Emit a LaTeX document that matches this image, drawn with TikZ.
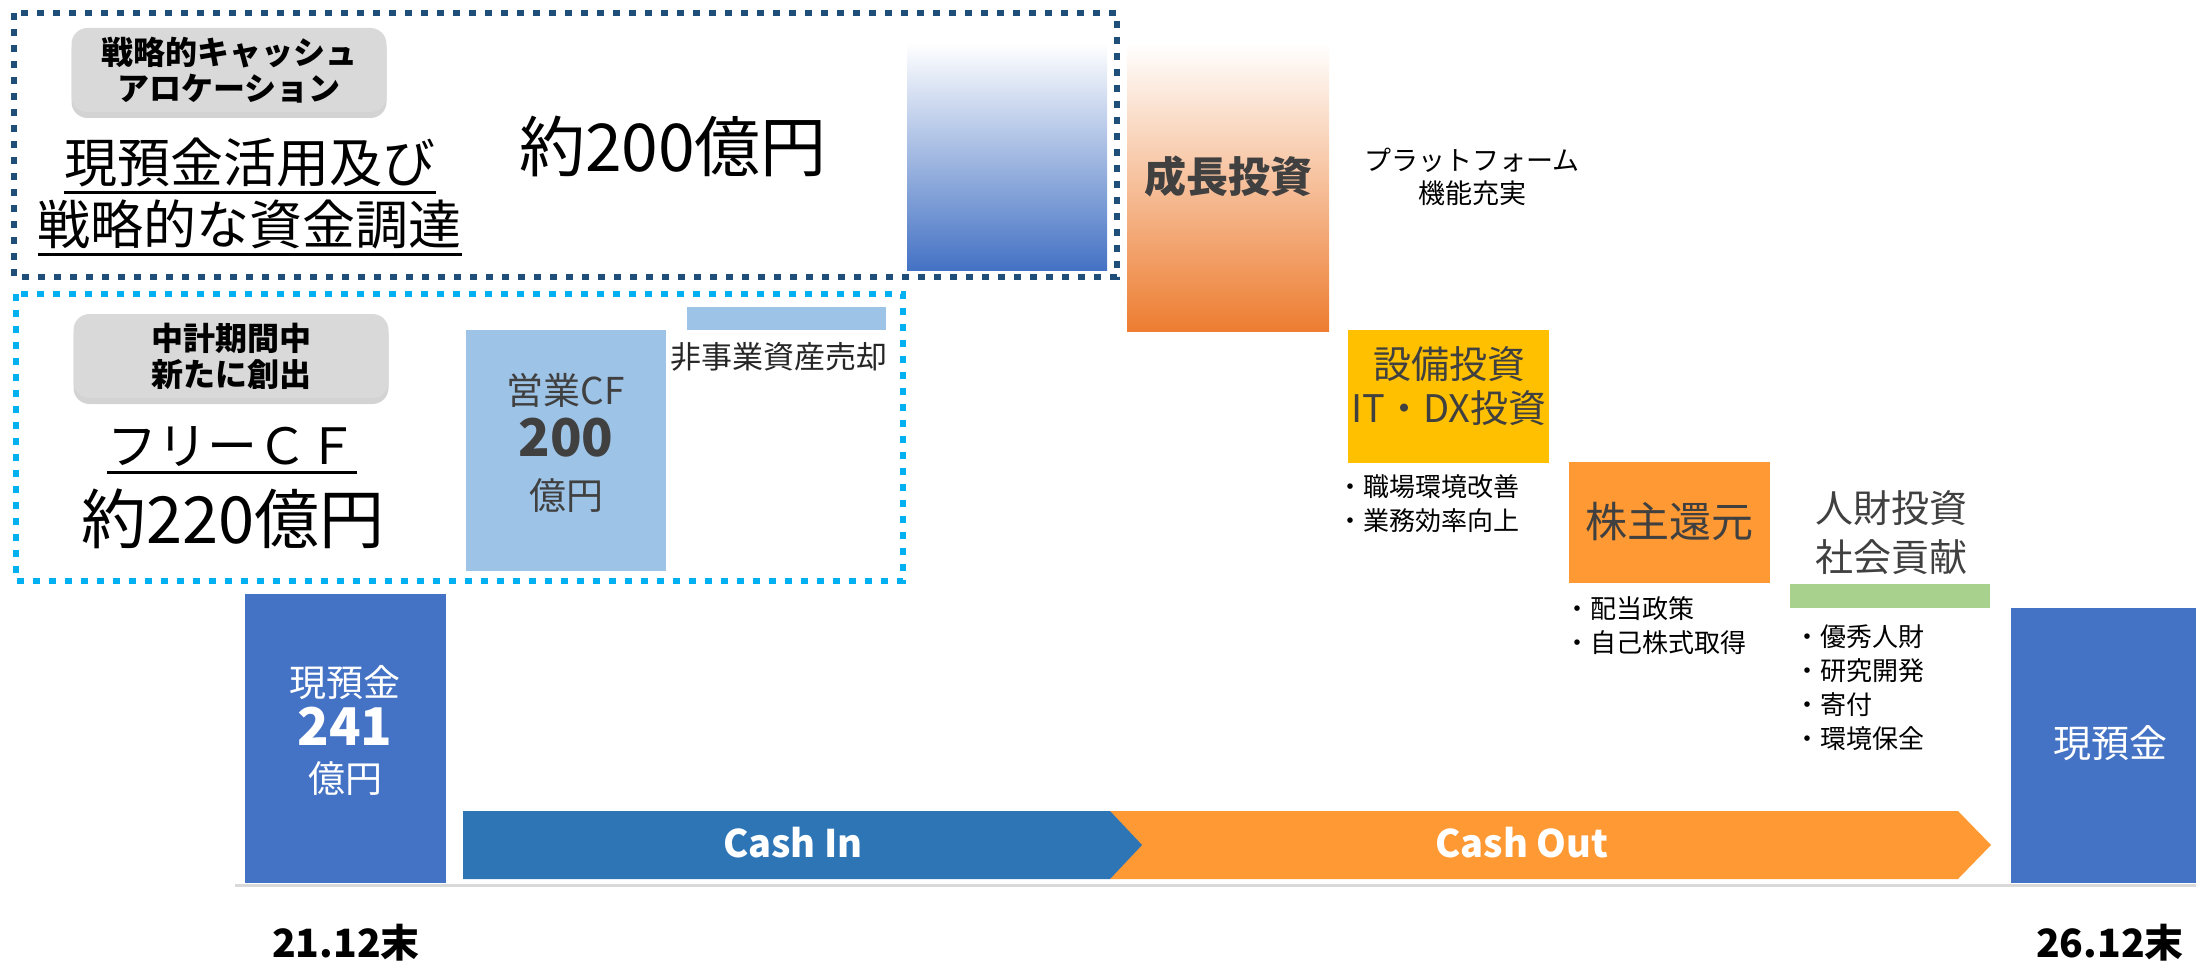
\documentclass[tikz,border=0pt]{standalone}
\usepackage{fontspec}
\setmainfont{Noto Sans CJK JP}
\usetikzlibrary{shadows}
\definecolor{navy}{HTML}{1F4E79}
\definecolor{skyline}{HTML}{00B0F0}
\definecolor{labelgray}{HTML}{D9D9D9}
\definecolor{cashblue}{HTML}{4472C4}
\definecolor{opblue}{HTML}{9DC3E6}
\definecolor{capexyellow}{HTML}{FFC000}
\definecolor{returnorange}{HTML}{FF9933}
\definecolor{growthorange}{HTML}{ED7D31}
\definecolor{peoplegreen}{HTML}{A9D18E}
\definecolor{inblue}{HTML}{2E75B6}
\definecolor{boxtext}{HTML}{404040}
\newcommand{\sz}[2]{\fontsize{#1}{#2}\selectfont}

\begin{document}
\begin{tikzpicture}[x=0.5pt, y=-0.5pt, every node/.style={inner sep=0pt},
  dashbox/.style={line width=3.25pt, dash pattern=on 3.5pt off 4.5pt},
  tag/.style={rounded corners=8pt, fill=labelgray, minimum width=157.5pt, minimum height=42pt, align=center,
    font=\sz{16pt}{18pt}\bfseries, drop shadow={shadow xshift=0pt, shadow yshift=-3pt, opacity=0.35}},
  bullet/.style={anchor=west, font=\sz{13pt}{17pt}},
  boxlabel/.style={text=boxtext, font=\sz{19pt}{24pt}, align=center},
  uline/.style={line width=1.5pt}]
\useasboundingbox (0,0) rectangle (2196,963);
% frames
\draw[dashbox, navy] (14,13) rectangle (1117,277);
\draw[dashbox, skyline] (16,294) rectangle (903,581);
\node[tag] (strat) at (229,70) {戦略的キャッシュ\\アロケーション};
\node[tag] (midterm) at (231,356) {中計期間中\\新たに創出};

\node[font=\sz{26.5pt}{30pt}] (use1) at (250,162) {現預金活用及び};
\node[font=\sz{26.5pt}{30pt}] (use2) at (250,224) {戦略的な資金調達};
\draw[uline] ([yshift=-5pt]use1.base west) -- ([yshift=-5pt]use1.base east);
\draw[uline] ([yshift=-5pt]use2.base west) -- ([yshift=-5pt]use2.base east);
\node[font=\sz{33pt}{36pt}] (alloc) at (673,146) {約200億円};

\node[font=\sz{25pt}{30pt}] (fcf) at (232,447) {フリーＣＦ};
\draw[uline] ([yshift=-4pt]fcf.base west) -- ([yshift=-4pt]fcf.base east);
\node[font=\sz{32.5pt}{36pt}] (fcfval) at (233,519) {約220億円};

% bars
\shade[top color=white, bottom color=cashblue] (907,43) rectangle (1107,270);
\shade[top color=white, bottom color=growthorange] (1127,43) rectangle (1329,331);
\node[text=boxtext, font=\sz{21pt}{25pt}\bfseries] (growth) at (1228,176) {成長投資};
\node[align=center, font=\sz{13.5pt}{16.5pt}] (platform) at (1472,177) {プラットフォーム\\機能充実};

\fill[cashblue] (245,594) rectangle (446,883);
\node[white, font=\sz{18.5pt}{22pt}] (open1) at (345,683) {現預金};
\node[white, font=\sz{26pt}{30pt}\bfseries] (open2) at (345,726) {241};
\node[white, font=\sz{18.5pt}{22pt}] (open3) at (345,779) {億円};

\fill[opblue] (466,330) rectangle (666,571);
\node[text=boxtext, font=\sz{18.5pt}{22pt}] (opcf1) at (566,390) {営業CF};
\node[text=boxtext, font=\sz{26pt}{30pt}\bfseries] (opcf2) at (566,438) {200};
\node[text=boxtext, font=\sz{18.5pt}{22pt}] (opcf3) at (566,496) {億円};
\fill[opblue] (687,307) rectangle (886,330);
\node[text=black!85, font=\sz{15.5pt}{19pt}] (assets) at (779,357) {非事業資産売却};

\fill[capexyellow] (1348,330) rectangle (1549,463);
\node[boxlabel, font=\sz{19pt}{22pt}] (capex) at (1449,386) {設備投資\\IT・DX投資};
\node[bullet] (capex1) at (1337,487) {・職場環境改善};
\node[bullet] (capex2) at (1337,521) {・業務効率向上};

\fill[returnorange] (1569,462) rectangle (1770,583);
\node[boxlabel, font=\sz{21pt}{25pt}] (payout) at (1669,522) {株主還元};
\node[bullet] (payout1) at (1564,609) {・配当政策};
\node[bullet] (payout2) at (1564,643) {・自己株式取得};

\node[boxlabel, font=\sz{19pt}{24.5pt}] (people) at (1891,533) {人財投資\\社会貢献};
\fill[peoplegreen] (1790,584) rectangle (1990,608);
\foreach \t [count=\i] in {優秀人財,研究開発,寄付,環境保全}
  \node[bullet] (people\i) at (1794,{603+34*\i}) {・\t};

\fill[cashblue] (2011,608) rectangle (2196,883);
\node[white, font=\sz{19pt}{22pt}] (close) at (2110,743) {現預金};

% cash flow arrows
\fill[returnorange] (1110,811) -- (1958,811) -- (1991,845) -- (1958,879) -- (1110,879) -- cycle;
\fill[inblue] (463,811) -- (1110,811) -- (1142,845) -- (1110,879) -- (463,879) -- cycle;
\node[white, font=\sz{19pt}{22pt}\bfseries] (cashin) at (793,843) {Cash In};
\node[white, font=\sz{19pt}{22pt}\bfseries] (cashout) at (1522,843) {Cash Out};
\draw[labelgray, line width=1.5pt] (235,885) -- (2196,885);

\node[anchor=base, font=\sz{19.5pt}{24pt}\bfseries] (start) at (346,957) {21.12末};
\node[anchor=base, font=\sz{19.5pt}{24pt}\bfseries] (end) at (2110,957) {26.12末};
\end{tikzpicture}
\end{document}
